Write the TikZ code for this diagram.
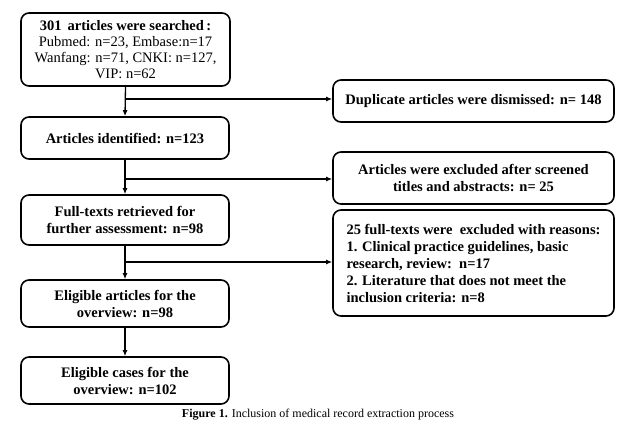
\documentclass[tikz,border=0pt]{standalone}
\usepackage{fontspec}
\usetikzlibrary{arrows.meta}
\setmainfont{Liberation Serif}
\begin{document}
\begin{tikzpicture}[x=1pt,y=-1pt,
  box/.style={draw,line width=1.6pt,rounded corners=8pt,align=center,inner sep=0pt,font=\fontsize{14.5}{17}\selectfont\bfseries},
  arr/.style={line width=1.3pt,-{Latex[length=6pt,width=5pt]}}]
\useasboundingbox (0,0) rectangle (641,431);
\node[box,minimum width=209pt,minimum height=73pt] (a) at (125.5,49.5) {301\, articles were searched\,:\\[-1pt]\mdseries Pubmed: n=23, Embase:n=17\\[-1pt]\mdseries Wanfang: n=71, CNKI: n=127,\\[-1pt]\mdseries VIP: n=62};
\node[box,minimum width=281pt,minimum height=42pt] (b) at (473.5,101) {Duplicate articles were dismissed: n= 148};
\node[box,minimum width=208pt,minimum height=42pt] (c) at (125,138) {Articles identified: n=123};
\node[box,minimum width=281pt,minimum height=52pt] (d) at (473.5,178) {Articles were excluded after screened\\titles and abstracts: n= 25};
\node[box,minimum width=208pt,minimum height=50pt] (e) at (125,220) {Full-texts retrieved for\\further assessment: n=98};
\node[box,minimum width=281pt,minimum height=106pt,align=left] (f) at (473.5,263) {25 full-texts were\ \ excluded with reasons:\\1. Clinical practice guidelines, basic\\research, review:\ \ n=17\\2. Literature that does not meet the\\inclusion criteria: n=8};
\node[box,minimum width=208pt,minimum height=47pt] (g) at (125,303.5) {Eligible articles for the\\overview: n=98};
\node[box,minimum width=208pt,minimum height=47pt] (h) at (125,380.5) {Eligible cases for the\\overview: n=102};
\node[font=\fontsize{12}{14}\selectfont] (cap) at (318,415) {\textbf{Figure 1.} Inclusion of medical record extraction process};
\coordinate (j1) at (125,99);
\coordinate (j2) at (125,179);
\coordinate (j3) at (125,262);
\draw[arr] (a.south) -- (c.north);
\draw[arr] (c.south) -- (e.north);
\draw[arr] (e.south) -- (g.north);
\draw[arr] (g.south) -- (h.north);
\draw[arr] (j1) -- (j1 -| b.west);
\draw[arr] (j2) -- (j2 -| d.west);
\draw[arr] (j3) -- (j3 -| f.west);
\end{tikzpicture}
\end{document}
